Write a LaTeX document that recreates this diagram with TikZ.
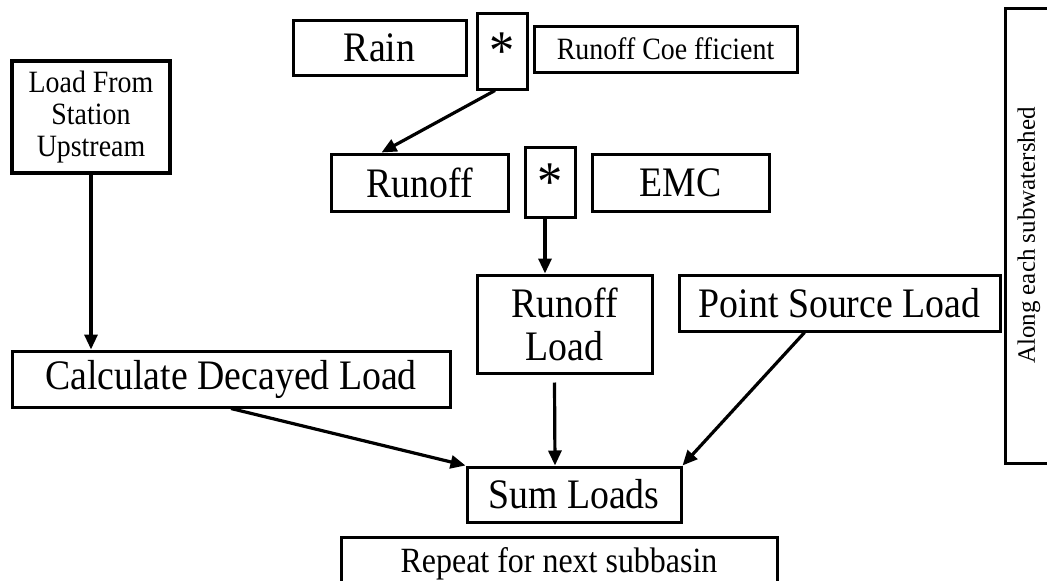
\documentclass[tikz,border=0pt]{standalone}
\usepackage{fontspec}
\setmainfont{Liberation Serif}[FakeStretch=0.9]
\newfontfamily\sidefont{Liberation Serif}
\usetikzlibrary{arrows.meta}

\begin{document}
\begin{tikzpicture}[x=1pt, y=-1pt]
    \tikzstyle{block} = [rectangle, draw, line width=3pt, inner sep=0pt, align=center,
                                      font=\fontsize{42}{43}\selectfont]
    \tikzstyle{small} = [block, font=\fontsize{31}{32}\selectfont]
    \tikzstyle{times} = [block, minimum width=50pt, font=\fontsize{56}{56}\selectfont]
    \tikzstyle{flow} = [-{Triangle[length=15pt, width=13pt]}, line width=3.2pt]
  \clip (0,0) rectangle (1047,581);
  \node[block, minimum width=173pt, minimum height=55pt](rain) at (379.5,47.5){Rain};
  \node[times, minimum height=76pt](star1) at (502,51){*};
  \node[small, minimum width=263pt, minimum height=46pt](coeff) at (665.5,49){Runoff Coe fficient};
  \node[small, line width=4.5pt, minimum width=158pt, minimum height=112pt](upstream) at (91,117){Load From\\Station\\Upstream};
  \node[block, minimum width=177pt, minimum height=57pt](runoff) at (419.5,182.5){Runoff};
  \node[times, minimum height=70pt](star2) at (550,182){*};
  \node[block, minimum width=177pt, minimum height=57pt](emc) at (680.5,182.5){EMC};
  \node[block, minimum width=175pt, minimum height=98pt](rload) at (564.5,324){Runoff\\Load};
  \node[block, minimum width=321pt, minimum height=56pt](point) at (839.5,303){Point Source Load};
  \node[block, minimum width=438pt, minimum height=56pt](decay) at (231,379){Calculate Decayed Load};
  \node[block, font=\fontsize{35.5}{36}\selectfont, minimum width=436pt, minimum height=54pt](repeat) at (559,564){Repeat for next subbasin};
  \node[block, minimum width=214pt, minimum height=55pt](sum) at (574,494.5){Sum Loads};
  \node[block, font=\sidefont\fontsize{25}{27}\selectfont, rotate=90, minimum width=455pt, minimum height=48pt](along) at (1029,235.5){Along each subwatershed};
  \draw[flow] ([xshift=-7pt]star1.south) -- ([xshift=52pt]runoff.north west);
  \draw[flow] (upstream.south) -- (upstream.south |- decay.north);
  \draw[flow] ([xshift=-5pt]star2.south) -- ([xshift=-5pt]star2.south |- rload.north);
  \draw[flow] ([xshift=-10pt, yshift=-8pt]rload.south) -- ([xshift=-19pt]sum.north);
  \draw[flow] (decay.south) -- (sum.north west);
  \draw[flow] ([xshift=-35pt]point.south) -- (sum.north east);
\end{tikzpicture}
\end{document}
